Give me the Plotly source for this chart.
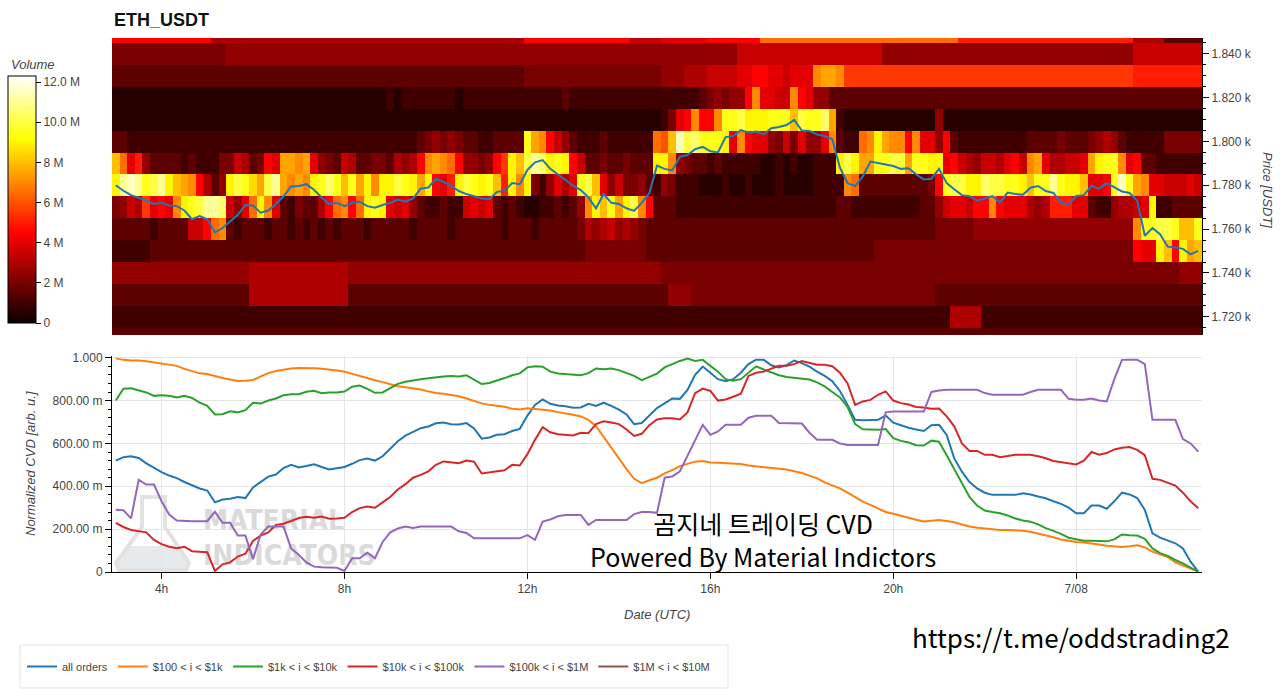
import plotly.graph_objects as go
from datetime import datetime, timedelta

# ---------------- data ----------------
START = datetime(2023, 7, 7, 3, 0)
STEP_MIN = 10
N_STEPS = 143
TIMES = [START + timedelta(minutes=STEP_MIN * i) for i in range(N_STEPS)]

PRICE = [1780, 1777.5, 1775.5, 1774.4, 1773, 1771.5,
         1772, 1770.8, 1770.5, 1768.5, 1764.5, 1766,
         1764.5, 1758.5, 1760.5, 1763.5, 1766.5, 1771,
         1770.8, 1767.5, 1768.5, 1771.5, 1775, 1779.5,
         1779.7, 1780.5, 1778, 1774.4, 1771.5, 1772,
         1770.5, 1772, 1772.5, 1770.5, 1769.8, 1771,
         1772, 1773.5, 1772.5, 1774, 1778.5, 1779,
         1783, 1781.5, 1779.7, 1777.4, 1776, 1775,
         1774, 1773.6, 1777, 1777.4, 1781, 1780.5,
         1787, 1790.5, 1791.5, 1787.5, 1785, 1782.5,
         1779.8, 1777.8, 1774.5, 1769.5, 1776, 1772,
         1771.5, 1769.5, 1768.3, 1772, 1776.5, 1789,
         1787.5, 1786.8, 1793, 1793.8, 1796.5, 1797.5,
         1795.5, 1795, 1802, 1802.5, 1805.2, 1804,
         1804.5, 1803.2, 1806, 1806.6, 1807.5, 1809.8,
         1805, 1804.8, 1803.2, 1802.5, 1801, 1788,
         1781, 1779.7, 1784, 1790.8, 1790.3, 1789.5,
         1788.8, 1787.5, 1787.8, 1785, 1782.7, 1783,
         1787.5, 1781, 1778.2, 1775.5, 1775, 1773,
         1774, 1775.1, 1772.1, 1776.7, 1776, 1775.7,
         1778.9, 1779.7, 1777.4, 1776.5, 1772, 1771.3,
         1775.1, 1775.5, 1779.7, 1778.5, 1781, 1779.2,
         1777.2, 1776.5, 1773, 1757, 1760.5, 1757.7,
         1752, 1751.6, 1751, 1748.5, 1750.1]

CVD_ALL = [0.52, 0.536, 0.54, 0.532, 0.507, 0.486,
           0.466, 0.45, 0.438, 0.42, 0.405, 0.39,
           0.38, 0.325, 0.338, 0.342, 0.35, 0.345,
           0.395, 0.42, 0.445, 0.455, 0.485, 0.5,
           0.488, 0.495, 0.503, 0.49, 0.478, 0.484,
           0.49, 0.505, 0.522, 0.53, 0.52, 0.54,
           0.575, 0.61, 0.636, 0.652, 0.671, 0.679,
           0.694, 0.698, 0.69, 0.688, 0.695, 0.67,
           0.622, 0.628, 0.64, 0.643, 0.658, 0.668,
           0.73, 0.78, 0.805, 0.785, 0.777, 0.773,
           0.767, 0.768, 0.785, 0.775, 0.79, 0.775,
           0.758, 0.735, 0.69, 0.695, 0.73, 0.765,
           0.787, 0.81, 0.808, 0.85, 0.92, 0.959,
           0.93, 0.9, 0.89, 0.9, 0.93, 0.97,
           0.991, 0.99, 0.965, 0.955, 0.965, 0.987,
           0.975, 0.958, 0.935, 0.915, 0.89, 0.845,
           0.78, 0.71, 0.708, 0.71, 0.71, 0.73,
           0.697, 0.685, 0.673, 0.665, 0.658, 0.685,
           0.687, 0.64, 0.53, 0.468, 0.42, 0.39,
           0.37, 0.36, 0.36, 0.36, 0.36, 0.367,
           0.362, 0.352, 0.344, 0.33, 0.318, 0.3,
           0.274, 0.274, 0.31, 0.31, 0.295, 0.33,
           0.37, 0.362, 0.345, 0.29, 0.18, 0.16,
           0.147, 0.134, 0.11, 0.048, 0.002]

CVD_100_1K = [0.997, 0.99, 0.987, 0.987, 0.983, 0.978,
              0.973, 0.968, 0.962, 0.948, 0.936, 0.927,
              0.924, 0.913, 0.905, 0.898, 0.891, 0.893,
              0.896, 0.913, 0.928, 0.938, 0.945, 0.95,
              0.952, 0.952, 0.951, 0.948, 0.945, 0.94,
              0.935, 0.925, 0.912, 0.905, 0.895, 0.886,
              0.877, 0.867, 0.862, 0.857, 0.852, 0.843,
              0.835, 0.832, 0.827, 0.82, 0.81, 0.798,
              0.787, 0.78, 0.777, 0.771, 0.762, 0.758,
              0.764, 0.76, 0.756, 0.754, 0.746, 0.741,
              0.734, 0.726, 0.71, 0.68, 0.63, 0.58,
              0.525, 0.48, 0.435, 0.415, 0.428, 0.44,
              0.46, 0.475, 0.494, 0.505, 0.515, 0.518,
              0.511, 0.51, 0.509, 0.506, 0.504, 0.497,
              0.493, 0.489, 0.486, 0.484, 0.478, 0.47,
              0.462, 0.45, 0.437, 0.418, 0.405, 0.39,
              0.37, 0.35, 0.328, 0.313, 0.296, 0.28,
              0.272, 0.262, 0.253, 0.244, 0.236, 0.24,
              0.243, 0.238, 0.232, 0.222, 0.212, 0.206,
              0.202, 0.199, 0.196, 0.196, 0.195, 0.192,
              0.188, 0.18, 0.172, 0.162, 0.152, 0.145,
              0.14, 0.138, 0.134, 0.128, 0.122, 0.118,
              0.117, 0.12, 0.125, 0.115, 0.095, 0.082,
              0.07, 0.045, 0.03, 0.017, 0.002]

CVD_1K_10K = [0.80, 0.855, 0.857, 0.848, 0.838, 0.822,
              0.825, 0.822, 0.815, 0.822, 0.812, 0.79,
              0.775, 0.735, 0.736, 0.75, 0.745, 0.755,
              0.79, 0.786, 0.8, 0.81, 0.825, 0.829,
              0.83, 0.841, 0.846, 0.834, 0.838, 0.838,
              0.842, 0.865, 0.87, 0.855, 0.836, 0.838,
              0.858, 0.878, 0.888, 0.895, 0.899, 0.904,
              0.909, 0.912, 0.915, 0.912, 0.918, 0.896,
              0.877, 0.882, 0.892, 0.905, 0.918, 0.927,
              0.955, 0.96, 0.958, 0.935, 0.926, 0.924,
              0.921, 0.918, 0.928, 0.95, 0.946, 0.95,
              0.942, 0.93, 0.915, 0.895, 0.911, 0.926,
              0.955, 0.97, 0.985, 0.996, 0.985, 0.99,
              0.962, 0.935, 0.9, 0.893, 0.9, 0.93,
              0.96, 0.945, 0.932, 0.918, 0.91, 0.905,
              0.902, 0.898, 0.885, 0.866, 0.84, 0.815,
              0.77, 0.69, 0.666, 0.664, 0.664, 0.667,
              0.625, 0.612, 0.604, 0.592, 0.59, 0.613,
              0.608, 0.545, 0.478, 0.41, 0.35, 0.31,
              0.287, 0.28, 0.274, 0.264, 0.25, 0.24,
              0.235, 0.222, 0.205, 0.192, 0.178, 0.16,
              0.152, 0.146, 0.146, 0.146, 0.143, 0.152,
              0.175, 0.172, 0.17, 0.155, 0.11, 0.088,
              0.075, 0.056, 0.04, 0.02, 0.002]

CVD_10K_100K = [0.229, 0.21, 0.196, 0.19, 0.185, 0.15,
                0.13, 0.118, 0.111, 0.118, 0.097, 0.095,
                0.092, 0.005, 0.036, 0.045, 0.072, 0.085,
                0.145, 0.17, 0.185, 0.22, 0.225, 0.238,
                0.252, 0.258, 0.253, 0.259, 0.249, 0.25,
                0.253, 0.28, 0.298, 0.306, 0.3, 0.325,
                0.35, 0.385, 0.41, 0.44, 0.453, 0.47,
                0.5, 0.516, 0.512, 0.508, 0.52, 0.515,
                0.46, 0.465, 0.47, 0.475, 0.5, 0.497,
                0.55, 0.617, 0.676, 0.652, 0.643, 0.64,
                0.637, 0.65, 0.648, 0.69, 0.703, 0.698,
                0.69, 0.665, 0.635, 0.645, 0.685, 0.712,
                0.718, 0.718, 0.712, 0.745, 0.835, 0.856,
                0.845, 0.8, 0.805, 0.818, 0.832, 0.915,
                0.93, 0.935, 0.95, 0.962, 0.963, 0.97,
                0.985, 0.975, 0.967, 0.967, 0.96, 0.93,
                0.88, 0.78, 0.796, 0.803, 0.827, 0.843,
                0.8, 0.788, 0.782, 0.77, 0.768, 0.762,
                0.763, 0.726, 0.68, 0.6, 0.565, 0.565,
                0.547, 0.547, 0.536, 0.541, 0.547, 0.547,
                0.547, 0.54, 0.531, 0.518, 0.512, 0.508,
                0.502, 0.52, 0.56, 0.547, 0.555, 0.572,
                0.58, 0.583, 0.57, 0.545, 0.435, 0.43,
                0.415, 0.403, 0.37, 0.33, 0.298]

CVD_100K_1M = [0.29, 0.288, 0.25, 0.43, 0.408, 0.408,
               0.33, 0.268, 0.24, 0.237, 0.237, 0.237,
               0.237, 0.282, 0.23, 0.23, 0.17, 0.17,
               0.06, 0.175, 0.212, 0.212, 0.212, 0.11,
               0.08, 0.045, 0.025, 0.022, 0.02, 0.02,
               0.005, 0.064, 0.064, 0.09, 0.064, 0.14,
               0.185, 0.203, 0.212, 0.205, 0.212, 0.212,
               0.212, 0.212, 0.212, 0.19, 0.182, 0.157,
               0.157, 0.157, 0.157, 0.157, 0.157, 0.157,
               0.172, 0.15, 0.235, 0.245, 0.26, 0.266,
               0.266, 0.266, 0.22, 0.243, 0.243, 0.243,
               0.243, 0.243, 0.27, 0.28, 0.28, 0.276,
               0.44, 0.446, 0.47, 0.545, 0.617, 0.687,
               0.64, 0.656, 0.687, 0.687, 0.687, 0.72,
               0.729, 0.729, 0.729, 0.695, 0.695, 0.695,
               0.693, 0.65, 0.617, 0.617, 0.617, 0.6,
               0.593, 0.593, 0.593, 0.593, 0.593, 0.745,
               0.749, 0.749, 0.749, 0.749, 0.749, 0.84,
               0.847, 0.85, 0.85, 0.85, 0.85, 0.85,
               0.835, 0.827, 0.827, 0.827, 0.827, 0.827,
               0.84, 0.85, 0.85, 0.85, 0.85, 0.808,
               0.804, 0.804, 0.81, 0.8, 0.796, 0.9,
               0.99, 0.991, 0.991, 0.97, 0.71, 0.71,
               0.71, 0.71, 0.62, 0.6, 0.562]

CVD_1M_10M = [None]   # bucket not visible on the chart

SERIES_NAMES = ["all orders", "$100 < i < $1k", "$1k < i < $10k",
                "$10k < i < $100k", "$100k < i < $1M", "$1M < i < $10M"]
SERIES_COLORS = ["#1f77b4", "#ff7f0e", "#2ca02c", "#d62728", "#9467bd", "#8c564b"]

# order-book heat map: one string per price level (bottom -> top), one char per 10-min column
# char index in LEVEL_CHARS * 0.5 M = resting volume
LEVEL_CHARS = "0123456789abcdefghijklmno"
LEVEL_STEP = 0.5e6
PRICE_LEVELS = [1710, 1720, 1730, 1740, 1750, 1760, 1770, 1780, 1790, 1800,
                1810, 1820, 1830, 1840, 1850]
HEAT_ROWS = [
    "333333 333333 333333 333333 333333 333333 333333 333333 333333 333333 333333 333333 333333 333333 333333 333333 333333 333333 333333 333333 333333 333333 333333 33333",
    "222222 222222 222222 222222 222222 222222 222222 222222 222222 222222 222222 222222 222222 222222 222222 222222 222222 222222 226666 222222 222222 222222 222222 22222",
    "333333 333333 333333 666666 666666 633333 333333 333333 333333 333333 333333 333333 355544 444444 444444 444444 444444 444444 333333 333333 333333 333333 333333 33333",
    "555555 555555 555555 666666 666666 655555 555555 555555 555555 555555 555555 555555 444444 444444 444444 444444 444444 444444 444444 444444 444444 444444 444444 44555",
    "222223 333333 333333 333333 333333 333333 333333 333333 333333 333333 334444 444433 333333 333333 333333 333333 333344 444444 444444 444444 444444 444444 44988i g9ifg",
    "333332 333377 9de323 332332 323232 333233 333233 332333 333233 323333 346567 565433 333333 333333 333333 333333 333333 333333 444445 555555 555555 555555 55ejjk kjggj",
    "4576b8 98eijk mml758 die832 43369d e9diji 878532 232278 783232 112232 35eigj fike93 332222 222222 222222 222223 322222 222233 578879 9e9888 656aaa 883225 6678i2 23333",
    "imnmjk migfe9 635ikj hfkmfe feijlj gjfiei ikjifi 98aikj ijgaie i42586 8jkg85 744532 542221 112112 111211 112222 ed3333 333334 9jkkii lkkjji gjjmji ig889j njfe88 77787",
    "gd8a53 333232 224476 3498ff ef8543 763344 36569e fed955 459big kmliji 973343 34333i ie5433 232222 211212 11222i kiffjj kkfjji i89765 776897 ef8667 78fijj e89332 22222",
    "332222 222222 222222 222222 222222 222222 222234 545433 223333 jfe975 322232 22222d cgnklj jji8e9 885474 8558e3 22deif ee9e88 593222 222222 333343 334565 322222 44444",
    "111111 111111 111111 111111 111111 111111 111111 111111 111111 111111 111111 111111 2489e9 9ejjki iijjjg kjjlf2 111111 111111 511111 111111 111111 111111 111111 11111",
    "111111 111111 111111 111111 111111 111111 212222 222122 222222 222223 222222 222222 222223 454559 e8877e 985533 333333 333333 333333 333333 333333 333333 333333 33333",
    "333333 333333 333333 333333 333333 333333 333333 333333 333333 444444 444444 444444 555666 777788 998878 88effe bbbbbb bbbbbb bbbbbb bbbbbb bbbbbb bbbbbb bbaaaa aaaaa",
    "444444 444444 444555 555555 555555 555555 555555 555555 555555 555555 555555 555555 555555 555577 777777 777777 777775 555555 555555 555555 555555 555555 557777 77777",
    "999999 999999 966666 666666 666666 666666 666666 666666 666666 999999 999999 997777 888888 999999 9ddddd dddddd dddddd dddddd dddaaa aaaaaa aaaaaa aaaaaa aa6666 33333",
]

PRICE_TICKS = [1720, 1740, 1760, 1780, 1800, 1820, 1840]
PRICE_TICK_TEXT = ["1.720 k", "1.740 k", "1.760 k", "1.780 k", "1.800 k", "1.820 k", "1.840 k"]
CVD_TICKS = [0, 0.2, 0.4, 0.6, 0.8, 1.0]
CVD_TICK_TEXT = ["0", "200.00 m", "400.00 m", "600.00 m", "800.00 m", "1.000"]
TIME_TICKS = ["2023-07-07 04:00", "2023-07-07 08:00", "2023-07-07 12:00",
              "2023-07-07 16:00", "2023-07-07 20:00", "2023-07-08 00:00"]
TIME_TICK_TEXT = ["4h", "8h", "12h", "16h", "20h", "7/08"]
VOL_TICKS = [0, 2e6, 4e6, 6e6, 8e6, 10e6, 12e6]
VOL_TICK_TEXT = ["0", "2 M", "4 M", "6 M", "8 M", "10.0 M", "12.0 M"]
VOL_MAX = 12.3e6

# ---------------- build ----------------
z = []
for row in HEAT_ROWS:
    s = row.replace(" ", "")
    s = (s + s[-1] * N_STEPS)[:N_STEPS]
    z.append([LEVEL_CHARS.index(c) * LEVEL_STEP for c in s])

W, H = 1280, 689
def px(x):
    return x / W
def py(y):
    return 1 - y / H

FONT = "Liberation Sans"
GREY = "#444444"
x_range = [START - timedelta(minutes=5), TIMES[-1] + timedelta(minutes=5)]

hot = [[0.0, "#0b0000"], [0.365, "#ff0000"], [0.746, "#ffff00"], [1.0, "#ffffff"]]

fig = go.Figure()
fig.add_trace(go.Heatmap(
    x=TIMES, y=PRICE_LEVELS, z=z, zmin=0, zmax=VOL_MAX, colorscale=hot,
    xaxis="x", yaxis="y", showscale=True, hoverinfo="skip",
    colorbar=dict(x=px(8), xanchor="left", y=py(199.5), yanchor="middle",
                  len=247 / H, lenmode="fraction", thickness=28, thicknessmode="pixels",
                  xpad=0, ypad=0, outlinewidth=1, outlinecolor="#000",
                  tickmode="array", tickvals=VOL_TICKS, ticktext=VOL_TICK_TEXT,
                  ticks="outside", ticklen=5, tickcolor="#000",
                  tickfont=dict(family=FONT, size=12, color=GREY))))
fig.add_trace(go.Scatter(x=TIMES, y=PRICE, xaxis="x", yaxis="y", mode="lines",
                         line=dict(color="#1f77b4", width=2), showlegend=False,
                         hoverinfo="skip"))

cvd = [CVD_ALL, CVD_100_1K, CVD_1K_10K, CVD_10K_100K, CVD_100K_1M]
for vals, name, col in zip(cvd, SERIES_NAMES, SERIES_COLORS):
    fig.add_trace(go.Scatter(x=TIMES, y=vals, xaxis="x2", yaxis="y2", mode="lines",
                             name=name, line=dict(color=col, width=2)))
fig.add_trace(go.Scatter(x=[None], y=CVD_1M_10M, xaxis="x2", yaxis="y2", mode="lines",
                         name=SERIES_NAMES[5], line=dict(color=SERIES_COLORS[5], width=2)))

xdom = [px(112), px(1202)]
fig.update_layout(
    width=W, height=H, margin=dict(l=0, r=0, t=0, b=0),
    paper_bgcolor="white", plot_bgcolor="white", template="none",
    font=dict(family=FONT, size=12, color=GREY),
    xaxis=dict(domain=xdom, anchor="y", range=x_range, showticklabels=False,
               showgrid=False, zeroline=False, showline=False, ticks="", automargin=False),
    yaxis=dict(domain=[py(335), py(38)], anchor="x", side="right",
               range=[1711.7, 1847.2], tickmode="array", tickvals=PRICE_TICKS,
               ticktext=PRICE_TICK_TEXT, ticks="outside", ticklen=6, tickcolor="#000",
               showline=True, linecolor="#000", linewidth=1, showgrid=False,
               zeroline=False, automargin=False,
               minor=dict(ticks="outside", ticklen=3, tickcolor="#000", dtick=5,
                          tick0=1710, showgrid=False),
               tickfont=dict(family=FONT, size=12, color=GREY)),
    xaxis2=dict(domain=xdom, anchor="y2", range=x_range, tickmode="array",
                tickvals=TIME_TICKS, ticktext=TIME_TICK_TEXT, ticks="outside",
                ticklen=6, tickcolor="#000", showline=True, linecolor="#000",
                linewidth=1, showgrid=True, gridcolor="#e5e5e5", zeroline=False,
                automargin=False, tickfont=dict(family=FONT, size=12, color=GREY)),
    yaxis2=dict(domain=[py(572), py(356)], anchor="x2", range=[0, 1.008],
                tickmode="array", tickvals=CVD_TICKS, ticktext=CVD_TICK_TEXT,
                ticks="outside", ticklen=6, tickcolor="#000", showline=True,
                linecolor="#000", linewidth=1, showgrid=True, gridcolor="#e5e5e5",
                zeroline=False, automargin=False,
                minor=dict(ticks="outside", ticklen=3, tickcolor="#000", dtick=0.04,
                           tick0=0, showgrid=False),
                tickfont=dict(family=FONT, size=12, color=GREY)),
    legend=dict(orientation="h", x=px(22), y=py(652), xanchor="left", yanchor="top",
                borderwidth=0, bgcolor="rgba(0,0,0,0)",
                font=dict(family=FONT, size=11, color=GREY), itemwidth=30,
                tracegroupgap=0),
    showlegend=True,
)

ann = [
    dict(text="<b>ETH_USDT</b>", x=px(112), y=py(20), xanchor="left", yanchor="middle",
         font=dict(family=FONT, size=18, color="#111")),
    dict(text="<i>Volume</i>", x=px(9), y=py(65), xanchor="left", yanchor="middle",
         font=dict(family=FONT, size=13, color=GREY)),
    dict(text="<i>Price [USDT]</i>", x=px(1268), y=py(190), xanchor="center",
         yanchor="middle", textangle=90, font=dict(family=FONT, size=13, color=GREY)),
    dict(text="<i>Normalized CVD [arb. u.]</i>", x=px(30), y=py(464), xanchor="center",
         yanchor="middle", textangle=-90, font=dict(family=FONT, size=13, color=GREY)),
    dict(text="<i>Date (UTC)</i>", x=px(657), y=py(614), xanchor="center",
         yanchor="middle", font=dict(family=FONT, size=13, color=GREY)),
    dict(text="곰지네 트레이딩 CVD<br>Powered By Material Indictors", x=px(763), y=py(539),
         xanchor="center", yanchor="middle", align="center",
         font=dict(family="Noto Sans CJK KR", size=25, color="#000")),
    dict(text="https://t.me/oddstrading2", x=px(1071), y=py(636), xanchor="center",
         yanchor="middle", font=dict(family="Noto Sans CJK KR", size=26, color="#000")),
]
for a in ann:
    a.update(xref="paper", yref="paper", showarrow=False)
fig.update_layout(annotations=ann)

# watermark (logo) drawn beneath the traces, legend frame
def path(points):
    return "M " + " L ".join(f"{px(x):.5f},{py(y):.5f}" for x, y in points) + " Z"

flask = [(142, 497), (142, 527), (116, 563), (119, 570), (186, 570), (189, 563),
         (165, 527), (165, 497)]
liquid = [(128, 546), (177, 546), (189, 563), (186, 570), (119, 570), (116, 563)]
WM_FONT = dict(family="Liberation Sans Narrow, DejaVu Sans Condensed, Liberation Sans",
               size=28, color="#dadada")
shapes = [
    dict(type="path", xref="paper", yref="paper", path=path(liquid),
         fillcolor="#e6eaed", line=dict(width=0), layer="below"),
    dict(type="path", xref="paper", yref="paper", path=path(flask),
         fillcolor="rgba(0,0,0,0)", line=dict(color="#e2e2e2", width=4), layer="below"),
    dict(type="rect", xref="paper", yref="paper", x0=px(200), x1=px(420),
         y0=py(532), y1=py(505), line=dict(width=0), fillcolor="rgba(0,0,0,0)",
         layer="below",
         label=dict(text="<b>MATERIAL</b>", textposition="middle left", padding=0,
                    font=WM_FONT)),
    dict(type="rect", xref="paper", yref="paper", x0=px(200), x1=px(420),
         y0=py(567), y1=py(540), line=dict(width=0), fillcolor="rgba(0,0,0,0)",
         layer="below",
         label=dict(text="<b>INDICATORS</b>", textposition="middle left", padding=0,
                    font=WM_FONT)),
    dict(type="rect", xref="paper", yref="paper", x0=px(20), x1=px(728),
         y0=py(688), y1=py(645), line=dict(color="#e3e3e3", width=1),
         fillcolor="rgba(0,0,0,0)", layer="above"),
]
fig.update_layout(shapes=shapes)

fig.write_html("out.html")
